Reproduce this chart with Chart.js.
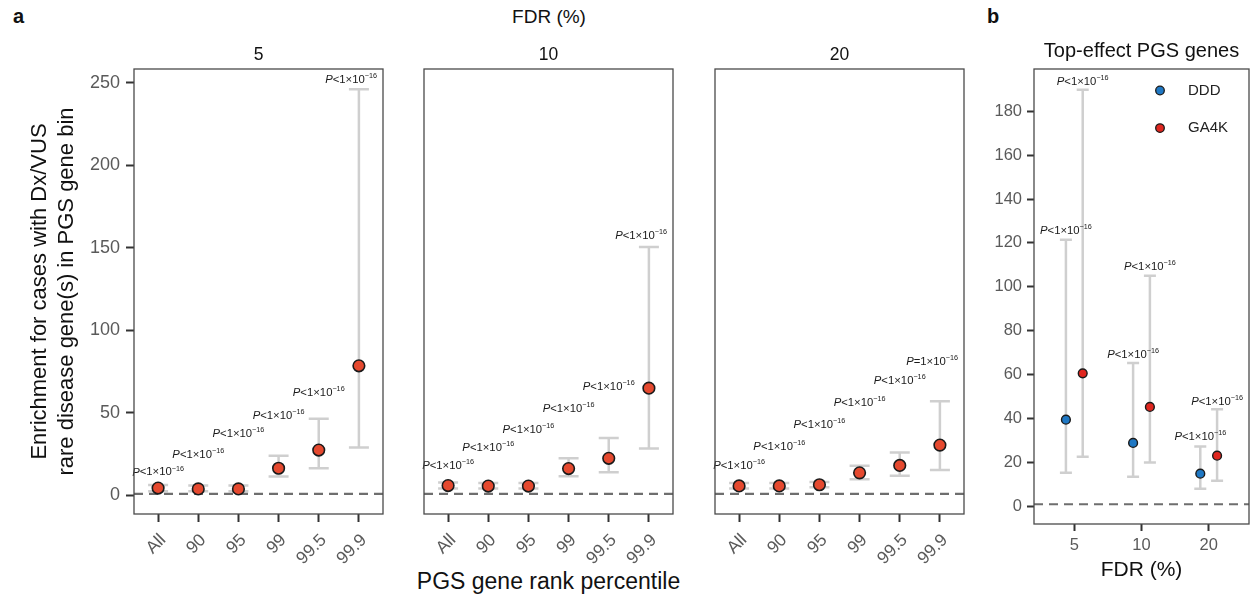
<!DOCTYPE html>
<html>
<head>
<meta charset="utf-8">
<script src="https://cdn.jsdelivr.net/npm/chart.js@4.4.1/dist/chart.umd.min.js"></script>
<style>
  body { margin: 0; background: #fff; }
  #fig { position: relative; width: 1255px; height: 602px; font-family: "Liberation Sans", Arial, sans-serif; color: #111; }
  #fig canvas { position: absolute; top: 0; }
  .txt { position: absolute; white-space: nowrap; }
  .tag { font-weight: bold; font-size: 20px; line-height: 20px; }
</style>
</head>
<body>
<div id="fig">
  <div class="txt tag" style="left:13px; top:6px">a</div>
  <div class="txt tag" style="left:987px; top:6px">b</div>
  <div class="txt" style="left:549px; top:7px; font-size:19px; line-height:19px; transform:translateX(-50%)">FDR (%)</div>
  <div class="txt" style="left:548.5px; top:570px; font-size:23px; line-height:23px; transform:translateX(-50%)">PGS gene rank percentile</div>
  <canvas id="f5" width="400" height="602" style="left:0"></canvas>
  <canvas id="f10" width="300" height="602" style="left:390px"></canvas>
  <canvas id="f20" width="300" height="602" style="left:680px"></canvas>
  <canvas id="topfx" width="280" height="602" style="left:975px"></canvas>
</div>
<script>
const FAM = '"Liberation Sans", Arial, sans-serif';
Chart.defaults.font.family = FAM;
Chart.defaults.animation = false;
Chart.defaults.plugins.legend.display = false;
Chart.defaults.plugins.tooltip.enabled = false;

// ---- data ----
const percentiles = ['All', '90', '95', '99', '99.5', '99.9'];
const fdrLevels = ['5', '10', '20'];
const yTicksA = [0, 50, 100, 150, 200, 250];
const yTicksB = [0, 20, 40, 60, 80, 100, 120, 140, 160, 180];

// panel a: enrichment + 95% CI per PGS percentile bin, one set per FDR
// lab* = height (in y units) where the P-value label sits
const est5 = [4.5, 4.0, 4.0, 16.5, 27.5, 78.5];
const lo5  = [2.6, 2.5, 2.5, 11.5, 16.5, 29.0];
const hi5  = [6.4, 6.0, 6.0, 24.0, 46.5, 246.0];
const lab5 = [14.0, 24.5, 37.5, 48.5, 62.0, 251.5];
const rel5 = ['<', '<', '<', '<', '<', '<'];

const est10 = [6.0, 5.7, 5.7, 16.3, 22.5, 65.0];
const lo10  = [4.3, 4.2, 4.2, 11.6, 14.0, 28.5];
const hi10  = [7.8, 7.5, 7.5, 22.5, 34.8, 150.5];
const lab10 = [18.0, 28.8, 39.6, 52.4, 65.7, 157.3];
const rel10 = ['<', '<', '<', '<', '<', '<'];

const est20 = [5.8, 5.8, 6.5, 13.7, 18.2, 30.5];
const lo20  = [4.3, 4.3, 5.0, 9.8, 12.0, 15.5];
const hi20  = [7.5, 7.5, 8.2, 18.0, 26.0, 57.0];
const lab20 = [17.9, 29.5, 42.7, 55.8, 69.3, 80.8];
const rel20 = ['<', '<', '<', '<', '<', '='];

// panel b: top-effect PGS genes by FDR
const dddEst  = [39.5, 28.9, 14.9];
const dddLo   = [15.3, 13.5, 8.1];
const dddHi   = [121.4, 65.3, 27.3];
const dddLab  = [125.5, 69.1, 31.6];
const ga4kEst = [60.6, 45.3, 23.1];
const ga4kLo  = [22.6, 20.0, 11.7];
const ga4kHi  = [189.8, 105.1, 44.2];
const ga4kLab = [193.5, 109.3, 47.5];

const REF = 1; // no-enrichment line

// ---- drawing helpers ----
function drawP(ctx, cx, cy, rel, size, area) {
  const main = rel + '1×10';
  const sup = '−16';
  ctx.font = `italic ${size}px ${FAM}`;
  const wP = ctx.measureText('P').width;
  ctx.font = `${size}px ${FAM}`;
  const wM = ctx.measureText(main).width;
  ctx.font = `${size * 0.64}px ${FAM}`;
  const wS = ctx.measureText(sup).width;
  const w = wP + wM + wS;
  cx = Math.min(cx, area.right - 6 - w / 2);
  let x = cx - w / 2;
  ctx.fillStyle = '#1a1a1a';
  ctx.textAlign = 'left';
  ctx.textBaseline = 'middle';
  ctx.font = `italic ${size}px ${FAM}`;
  ctx.fillText('P', x, cy); x += wP;
  ctx.font = `${size}px ${FAM}`;
  ctx.fillText(main, x, cy); x += wM;
  ctx.font = `${size * 0.64}px ${FAM}`;
  ctx.fillText(sup, x, cy - size * 0.34);
}

const decor = {
  id: 'decor',
  beforeDatasetsDraw(chart, args, opts) {
    const {ctx, scales: {x, y}} = chart;
    ctx.save();
    ctx.strokeStyle = '#cfcfcf';
    ctx.lineWidth = 2.5;
    chart.data.datasets.forEach(ds => {
      if (!ds.ci) return;
      ds.data.forEach(p => {
        const px = x.getPixelForValue(p.x);
        const a = y.getPixelForValue(p.lo), b = y.getPixelForValue(p.hi);
        ctx.beginPath();
        ctx.moveTo(px, a); ctx.lineTo(px, b);
        ctx.moveTo(px - opts.cap, a); ctx.lineTo(px + opts.cap, a);
        ctx.moveTo(px - opts.cap, b); ctx.lineTo(px + opts.cap, b);
        ctx.stroke();
      });
    });
    ctx.restore();
  },
  afterDraw(chart, args, opts) {
    const {ctx, chartArea: area, scales: {x, y}} = chart;
    ctx.save();
    chart.data.datasets.forEach(ds => {
      if (!ds.ci) return;
      ds.data.forEach(p => drawP(ctx, x.getPixelForValue(p.x), y.getPixelForValue(p.ly), p.rel, 11.3, area));
    });
    // panel frame
    ctx.strokeStyle = '#4a4a4a';
    ctx.lineWidth = 1.3;
    ctx.strokeRect(area.left, area.top, area.right - area.left, area.bottom - area.top);
    // strip / panel title
    ctx.fillStyle = '#111';
    ctx.textAlign = 'center';
    ctx.textBaseline = 'middle';
    ctx.font = `${opts.stripSize}px ${FAM}`;
    ctx.fillText(opts.strip, (area.left + area.right) / 2, area.top - opts.stripGap);
    // legend
    if (opts.legend) {
      chart.data.datasets.filter(d => d.label).forEach((ds, k) => {
        const cx = area.right - 89, cy = area.top + 21.5 + k * 37.6;
        ctx.beginPath();
        ctx.arc(cx, cy, 4.3, 0, 2 * Math.PI);
        ctx.fillStyle = ds.backgroundColor;
        ctx.fill();
        ctx.lineWidth = 1.3;
        ctx.strokeStyle = '#1a1a1a';
        ctx.stroke();
        ctx.fillStyle = '#222';
        ctx.textAlign = 'left';
        ctx.font = `15px ${FAM}`;
        ctx.fillText(ds.label, cx + 28, cy);
      });
    }
    ctx.restore();
  }
};

function pts(xs, est, lo, hi, lab, rel) {
  return est.map((v, i) => ({x: xs[i], y: v, lo: lo[i], hi: hi[i], ly: lab[i], rel: rel ? rel[i] : '<'}));
}

function refLine(x0, x1) {
  return {data: [{x: x0, y: REF}, {x: x1, y: REF}], showLine: true, borderColor: '#6e6e6e',
          borderWidth: 2.2, borderDash: [9, 6], pointRadius: 0};
}

function facet(id, fdr, est, lo, hi, lab, rel, o) {
  const xs = percentiles.map((_, i) => i);
  new Chart(document.getElementById(id), {
    type: 'scatter',
    data: {
      datasets: [
        {data: pts(xs, est, lo, hi, lab, rel), ci: true, pointRadius: 5.8, borderWidth: 1.6,
         backgroundColor: '#E5492F', borderColor: '#1a1a1a'},
        refLine(-0.6, 5.6)
      ]
    },
    options: {
      responsive: false,
      layout: {padding: {left: o.padL, right: o.padR, top: 69, bottom: 0}},
      scales: {
        x: {
          type: 'linear', min: -0.6, max: 5.6,
          afterBuildTicks: s => { s.ticks = xs.map(v => ({value: v})); },
          afterFit: s => { s.height = 88; },
          grid: {drawOnChartArea: false, tickLength: 8, tickColor: '#333', tickWidth: 2},
          border: {display: false},
          ticks: {callback: v => percentiles[v], minRotation: 45, maxRotation: 45, autoSkip: false,
                  color: '#5a5a5a', font: {size: 17.5}, padding: 8, labelOffset: 5}
        },
        y: {
          min: -11.2, max: 258.2, display: !!o.yAxis,
          afterBuildTicks: s => { s.ticks = yTicksA.map(v => ({value: v})); },
          afterFit: s => { s.width = o.yAxis ? 134 : 0; },
          grid: {drawOnChartArea: false, tickLength: 8, tickColor: '#333', tickWidth: 2},
          border: {display: false},
          ticks: {color: '#5a5a5a', font: {size: 18}, padding: 6},
          title: {display: true, text: ['Enrichment for cases with Dx/VUS', 'rare disease gene(s) in PGS gene bin'],
                  color: '#111', font: {size: 22, lineHeight: 1.2}, padding: {top: 27, bottom: 0}}
        }
      },
      plugins: {decor: {cap: 10, strip: fdr, stripSize: 17.5, stripGap: 14}}
    },
    plugins: [decor]
  });
}

facet('f5', fdrLevels[0], est5, lo5, hi5, lab5, rel5, {padL: 0, padR: 17, yAxis: true});
facet('f10', fdrLevels[1], est10, lo10, hi10, lab10, rel10, {padL: 34, padR: 17});
facet('f20', fdrLevels[2], est20, lo20, hi20, lab20, rel20, {padL: 35, padR: 16});

// panel b
const dodge = 0.125;
const xb = fdrLevels.map((_, i) => i + 1);
new Chart(document.getElementById('topfx'), {
  type: 'scatter',
  data: {
    datasets: [
      {label: 'DDD', data: pts(xb.map(v => v - dodge), dddEst, dddLo, dddHi, dddLab), ci: true,
       pointRadius: 4.4, borderWidth: 1.4, backgroundColor: '#1F78C4', borderColor: '#1a1a1a'},
      {label: 'GA4K', data: pts(xb.map(v => v + dodge), ga4kEst, ga4kLo, ga4kHi, ga4kLab), ci: true,
       pointRadius: 4.4, borderWidth: 1.4, backgroundColor: '#E0261F', borderColor: '#1a1a1a'},
      refLine(0.4, 3.6)
    ]
  },
  options: {
    responsive: false,
    layout: {padding: {left: 0, right: 6, top: 69, bottom: 0}},
    scales: {
      x: {
        type: 'linear', min: 0.4, max: 3.6,
        afterBuildTicks: s => { s.ticks = xb.map(v => ({value: v})); },
        afterFit: s => { s.height = 78; },
        grid: {drawOnChartArea: false, tickLength: 7, tickColor: '#333', tickWidth: 2},
        border: {display: false},
        ticks: {callback: v => fdrLevels[v - 1], minRotation: 0, maxRotation: 0, autoSkip: false,
                color: '#5a5a5a', font: {size: 16.5}, padding: 5},
        title: {display: true, text: 'FDR (%)', color: '#111', font: {size: 21}, padding: {top: 0, bottom: 19}}
      },
      y: {
        min: -8, max: 199.2,
        afterBuildTicks: s => { s.ticks = yTicksB.map(v => ({value: v})); },
        afterFit: s => { s.width = 59; },
        grid: {drawOnChartArea: false, tickLength: 7, tickColor: '#333', tickWidth: 2},
        border: {display: false},
        ticks: {color: '#5a5a5a', font: {size: 16.5}, padding: 5}
      }
    },
    plugins: {decor: {cap: 6, strip: 'Top-effect PGS genes', stripSize: 20, stripGap: 17.5, legend: true}}
  },
  plugins: [decor]
});
</script>
</body>
</html>
